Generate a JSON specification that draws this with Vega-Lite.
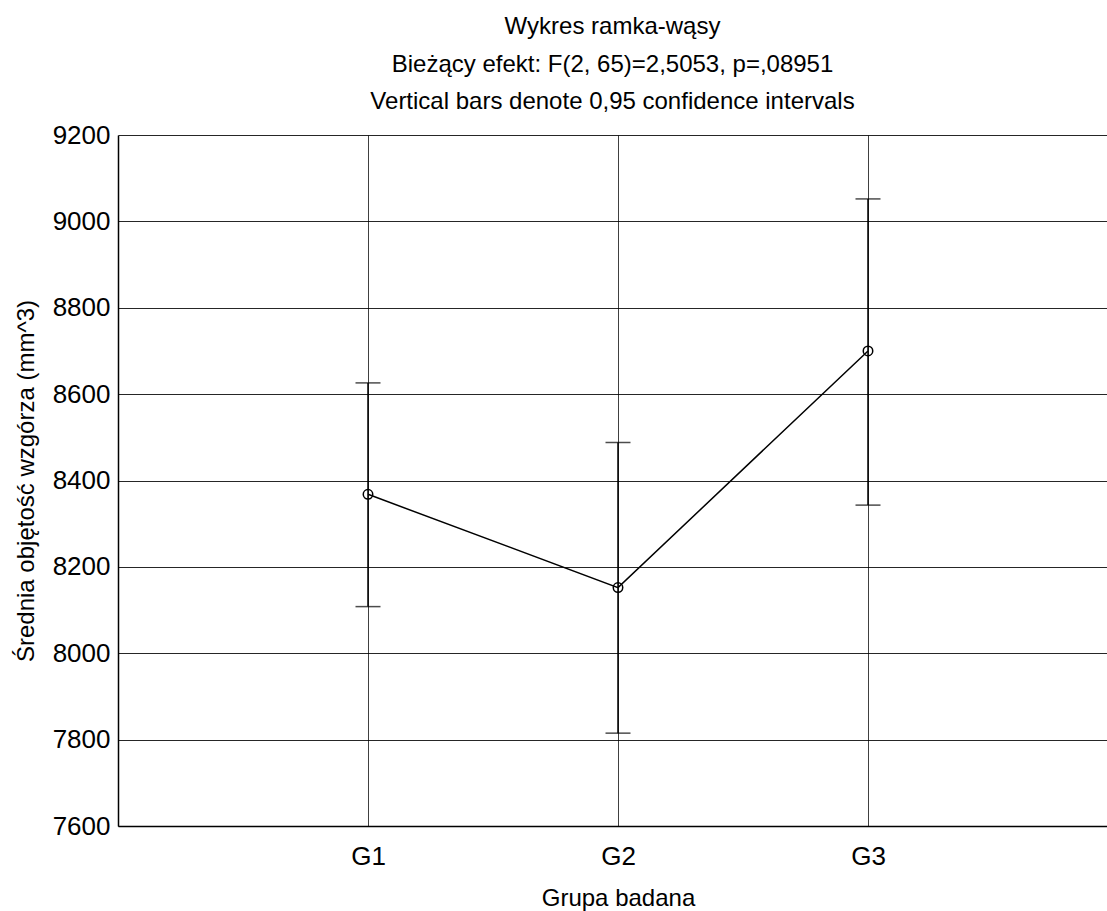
{
  "$schema": "https://vega.github.io/schema/vega-lite/v6.json",
  "width": 989,
  "height": 691,
  "autosize": {"type": "none"},
  "padding": {"left": 118, "top": 135, "right": 0, "bottom": 85},
  "background": "white",
  "title": {
    "text": ["Wykres ramka-wąsy", "Bieżący efekt: F(2, 65)=2,5053, p=,08951", "Vertical bars denote 0,95 confidence intervals"],
    "fontSize": 24,
    "font": "Liberation Sans",
    "fontWeight": "normal",
    "color": "#000",
    "lineHeight": 37.5,
    "anchor": "middle",
    "offset": 8
  },
  "config": {
    "view": {"stroke": null},
    "font": "Liberation Sans"
  },
  "data": {
    "values": [
      {"group": "G1", "mean": 8368, "lower": 8108, "upper": 8626},
      {"group": "G2", "mean": 8152, "lower": 7815, "upper": 8488},
      {"group": "G3", "mean": 8700, "lower": 8343, "upper": 9052}
    ]
  },
  "encoding": {
    "x": {
      "field": "group",
      "type": "nominal",
      "scale": {"type": "point", "domain": ["G1", "G2", "G3"], "range": [0, 1000], "padding": 1},
      "axis": {
        "title": "Grupa badana",
        "titleFont": "Liberation Sans",
        "titleFontSize": 24,
        "titleFontWeight": "normal",
        "titleColor": "#000",
        "titlePadding": 17,
        "labelFont": "Liberation Sans",
        "labelFontSize": 26,
        "labelColor": "#000",
        "labelAngle": 0,
        "labelPadding": 17,
        "ticks": false,
        "grid": true,
        "gridColor": "#000",
        "gridWidth": 1,
        "gridOpacity": 0.75,
        "domainColor": "#000",
        "domainWidth": 1.5
      }
    }
  },
  "layer": [
    {
      "mark": {"type": "rule", "color": "#000", "strokeWidth": 1.5},
      "encoding": {
        "y": {
          "field": "lower",
          "type": "quantitative",
          "scale": {"domain": [7600, 9200], "nice": false, "zero": false},
          "axis": {
            "title": "Średnia objętość wzgórza (mm^3)",
            "titleFont": "Liberation Sans",
            "titleFontSize": 24,
            "titleFontWeight": "normal",
            "titleColor": "#000",
            "titlePadding": 14,
            "values": [7600, 7800, 8000, 8200, 8400, 8600, 8800, 9000, 9200],
            "format": "d",
            "labelFont": "Liberation Sans",
            "labelFontSize": 26,
            "labelColor": "#000",
            "labelPadding": 8,
            "ticks": false,
            "grid": true,
            "gridColor": "#000",
            "gridWidth": 1,
            "gridOpacity": 0.85,
            "domainColor": "#000",
            "domainWidth": 1.5
          }
        },
        "y2": {"field": "upper"}
      }
    },
    {
      "mark": {"type": "tick", "color": "#000", "size": 25, "thickness": 1.5},
      "encoding": {"y": {"field": "lower", "type": "quantitative"}}
    },
    {
      "mark": {"type": "tick", "color": "#000", "size": 25, "thickness": 1.5},
      "encoding": {"y": {"field": "upper", "type": "quantitative"}}
    },
    {
      "mark": {"type": "line", "color": "#000", "strokeWidth": 1.5},
      "encoding": {"y": {"field": "mean", "type": "quantitative"}}
    },
    {
      "mark": {"type": "point", "shape": "circle", "filled": false, "color": "#000", "strokeWidth": 1.5, "size": 90, "opacity": 1},
      "encoding": {"y": {"field": "mean", "type": "quantitative"}}
    }
  ]
}
